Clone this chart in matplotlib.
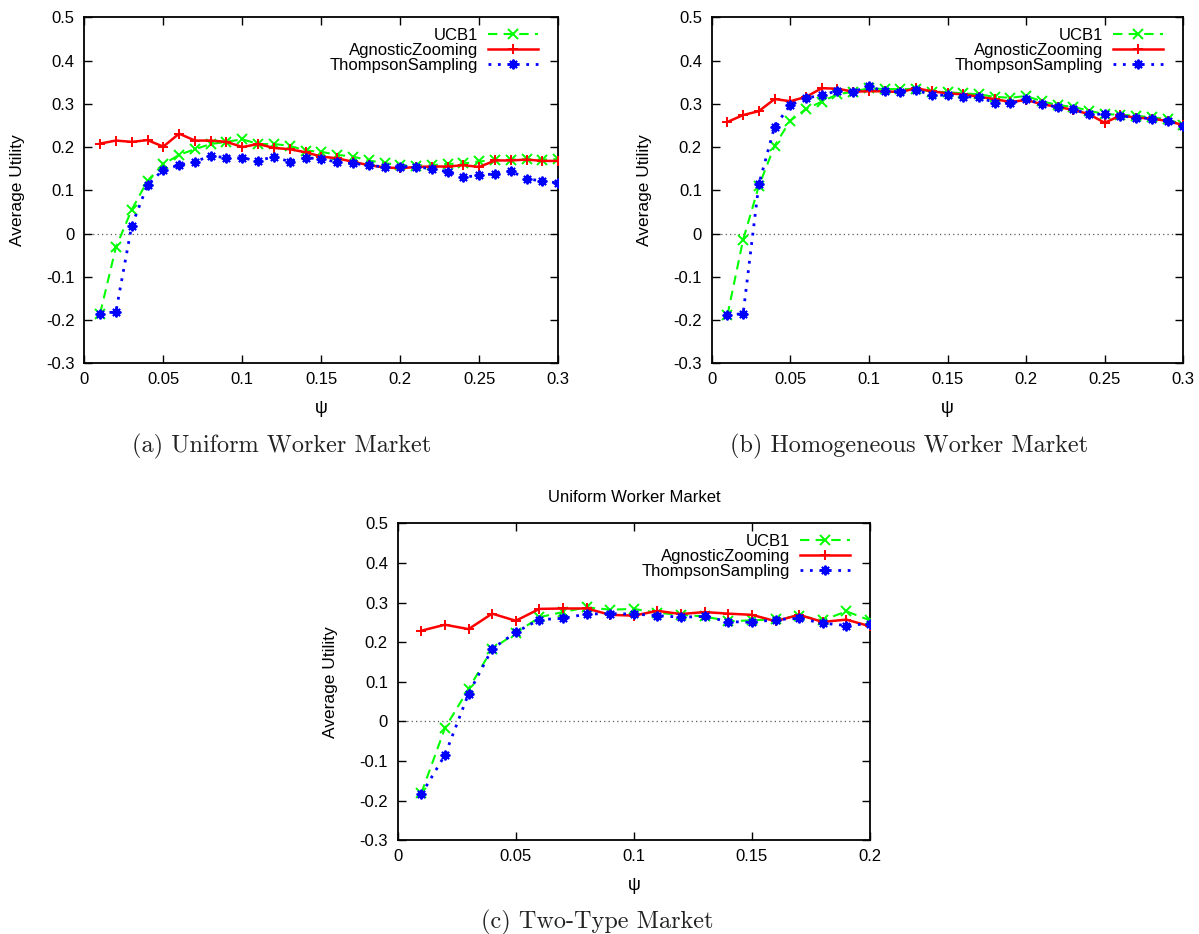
import matplotlib
matplotlib.use("Agg")
import matplotlib.pyplot as plt
from matplotlib.ticker import MultipleLocator, FuncFormatter

plt.rcParams['font.family'] = ['Liberation Sans', 'DejaVu Sans']
plt.rcParams['axes.unicode_minus'] = False

# ---------------- data ----------------
psi_a = [round(0.01 * i, 2) for i in range(1, 31)]
ucb_a = [-0.185, -0.032, 0.055, 0.122, 0.160, 0.182, 0.195, 0.207, 0.212, 0.218,
         0.207, 0.207, 0.203, 0.192, 0.189, 0.182, 0.178, 0.169, 0.163, 0.158,
         0.157, 0.158, 0.161, 0.162, 0.167, 0.169, 0.171, 0.172, 0.171, 0.172]
az_a = [0.208, 0.215, 0.212, 0.216, 0.201, 0.231, 0.215, 0.215, 0.212, 0.200,
        0.207, 0.198, 0.195, 0.188, 0.178, 0.174, 0.166, 0.158, 0.153, 0.151,
        0.154, 0.155, 0.155, 0.158, 0.154, 0.169, 0.169, 0.171, 0.168, 0.168]
ts_a = [-0.185, -0.181, 0.018, 0.112, 0.148, 0.158, 0.166, 0.180, 0.175, 0.175,
        0.168, 0.178, 0.166, 0.175, 0.173, 0.165, 0.162, 0.158, 0.154, 0.155,
        0.155, 0.149, 0.143, 0.130, 0.135, 0.138, 0.144, 0.127, 0.121, 0.117]

psi_b = [round(0.01 * i, 2) for i in range(1, 31)]
ucb_b = [-0.189, -0.014, 0.110, 0.203, 0.261, 0.288, 0.305, 0.322, 0.328, 0.336,
         0.334, 0.334, 0.334, 0.328, 0.327, 0.324, 0.322, 0.316, 0.314, 0.318,
         0.306, 0.297, 0.293, 0.284, 0.276, 0.275, 0.272, 0.269, 0.264, 0.252]
az_b = [0.258, 0.274, 0.283, 0.311, 0.306, 0.316, 0.336, 0.335, 0.328, 0.329,
        0.329, 0.327, 0.336, 0.329, 0.324, 0.322, 0.316, 0.311, 0.304, 0.309,
        0.299, 0.293, 0.286, 0.276, 0.256, 0.273, 0.268, 0.266, 0.260, 0.251]
ts_b = [-0.189, -0.185, 0.114, 0.247, 0.297, 0.313, 0.320, 0.330, 0.328, 0.340,
        0.329, 0.328, 0.332, 0.320, 0.320, 0.316, 0.316, 0.302, 0.301, 0.310,
        0.300, 0.292, 0.287, 0.276, 0.276, 0.272, 0.268, 0.266, 0.261, 0.249]

psi_c = [round(0.01 * i, 2) for i in range(1, 21)]
ucb_c = [-0.181, -0.017, 0.082, 0.183, 0.223, 0.263, 0.276, 0.288, 0.282, 0.284,
         0.274, 0.269, 0.265, 0.253, 0.255, 0.258, 0.267, 0.255, 0.278, 0.255]
az_c = [0.229, 0.244, 0.233, 0.272, 0.254, 0.284, 0.285, 0.285, 0.269, 0.267,
        0.279, 0.271, 0.276, 0.272, 0.269, 0.253, 0.269, 0.251, 0.257, 0.240]
ts_c = [-0.184, -0.085, 0.070, 0.183, 0.225, 0.257, 0.260, 0.271, 0.272, 0.271,
        0.267, 0.263, 0.265, 0.252, 0.250, 0.257, 0.260, 0.248, 0.242, 0.247]

labels = ["UCB1", "AgnosticZooming", "ThompsonSampling"]
title_c = "Uniform Worker Market"
captions = ["(a) Uniform Worker Market", "(b) Homogeneous Worker Market", "(c) Two-Type Market"]

# ---------------- figure ----------------
W, H = 1199, 934
fig = plt.figure(figsize=(W / 100, H / 100), dpi=100)


def px_axes(l, t, r, b):
    return fig.add_axes([l / W, 1 - b / H, (r - l) / W, (b - t) / H])


FS = 12
fmt = FuncFormatter(lambda v, p: ("%g" % round(v, 3)))


def setup(ax, xs, ucb, az, ts, xmax, xstep, w, h):
    ax.axhline(0, color='0.35', lw=0.9, ls=(0, (1, 2.5)), zorder=1)
    ax.plot(xs, ucb, color='#00ff00', ls=(0, (4.5, 3)), lw=1.5, marker='x',
            ms=6.5, mew=1.4, label=labels[0], zorder=3)
    ax.plot(xs, az, color='#ff0000', ls='-', lw=1.8, marker='+',
            ms=7.5, mew=1.4, label=labels[1], zorder=4)
    ax.plot(xs, ts, color='#0000ff', ls=(0, (1, 2.4)), lw=2.0, marker=(8, 2, 0),
            ms=7, mew=1.4, label=labels[2], zorder=5)
    ax.set_xlim(0, xmax)
    ax.set_ylim(-0.3, 0.5)
    ax.xaxis.set_major_locator(MultipleLocator(xstep))
    ax.yaxis.set_major_locator(MultipleLocator(0.1))
    ax.xaxis.set_major_formatter(fmt)
    ax.yaxis.set_major_formatter(fmt)
    ax.tick_params(direction='in', length=6, width=1, top=True, right=True,
                   labelsize=FS, colors='black')
    ax.tick_params(axis='x', pad=6)
    ax.tick_params(axis='y', pad=7)
    for s in ax.spines.values():
        s.set_linewidth(1.3)
    ax.set_xlabel("ψ", fontsize=FS + 1)
    ax.xaxis.set_label_coords(0.5, -45 / h)
    ax.xaxis.label.set_va('center')
    ax.set_ylabel("Average Utility", fontsize=FS + 0.5)
    ax.yaxis.set_label_coords(-67 / w, 0.5)
    ax.yaxis.label.set_va('center')
    # legend
    anchor_x = 1 - 20 / w
    anchor_y = 1 - 11 / h
    ax.legend(loc='upper right', bbox_to_anchor=(anchor_x, anchor_y),
              frameon=False, markerfirst=False, numpoints=1, handlelength=3.0,
              handletextpad=0.6, labelspacing=-0.02, borderpad=0, borderaxespad=0,
              fontsize=FS)


axa = px_axes(84.3, 17.3, 558.3, 363.3)
setup(axa, psi_a, ucb_a, az_a, ts_a, 0.3, 0.05, 474, 346)
axb = px_axes(711.7, 17.3, 1183.3, 363.3)
setup(axb, psi_b, ucb_b, az_b, ts_b, 0.3, 0.05, 471.6, 346)
axc = px_axes(397.7, 523.3, 870, 840.3)
setup(axc, psi_c, ucb_c, az_c, ts_c, 0.2, 0.05, 472.3, 317)
axc.set_title(title_c, fontsize=FS, pad=15)

cap_kw = dict(family='cmr10', fontsize=17.5, color='#222222', ha='center', va='center')
fig.text(282 / W, 1 - 446 / H, captions[0], **cap_kw)
fig.text(909 / W, 1 - 446 / H, captions[1], **cap_kw)
fig.text(597 / W, 1 - 922 / H, captions[2], **cap_kw)

fig.savefig("out.png", dpi=100)
